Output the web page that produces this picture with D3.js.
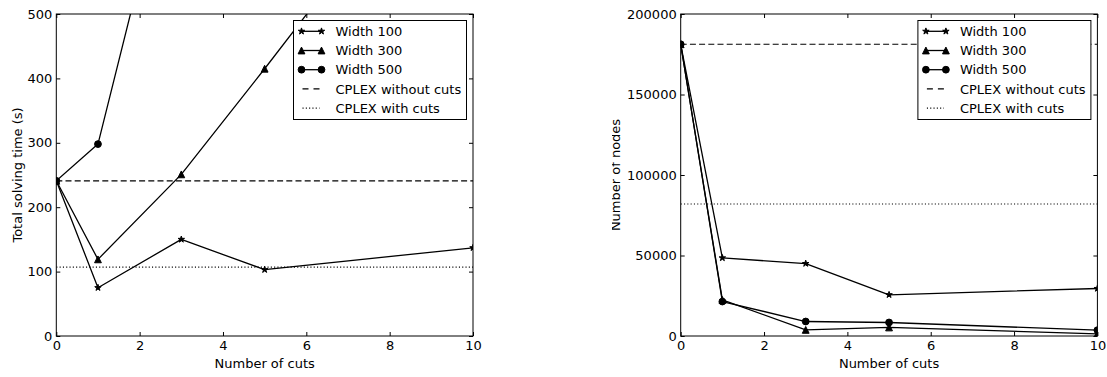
<!DOCTYPE html>
<html>
<head>
<meta charset="utf-8">
<script src="https://cdn.jsdelivr.net/npm/d3@7"></script>
<style>
  html, body { margin: 0; padding: 0; background: #fff; }
  svg { display: block; }
  text { font-family: "DejaVu Sans", sans-serif; fill: #000; }
</style>
</head>
<body>
<svg id="fig" width="1107" height="377"></svg>
<script>
// Number of cuts on the x axis (shared by both panels)
const cuts = [0, 1, 3, 5, 10];

// Left panel: total solving time in seconds
const timeWidth100 = [241, 75, 150, 103, 137];
const timeWidth300 = [241, 119, 251, 415, 835];
const timeWidth500 = [241, 298, 816, 1350, 2400];
const timeCplexNoCuts = 241;
const timeCplexCuts = 107;
const timeTicks = [0, 100, 200, 300, 400, 500];

// Right panel: number of branch-and-bound nodes
const nodesWidth100 = [181200, 48500, 45000, 25600, 29500];
const nodesWidth300 = [181200, 22400, 3800, 5300, 1300];
const nodesWidth500 = [181200, 21400, 9000, 8400, 3600];
const nodesCplexNoCuts = 181200;
const nodesCplexCuts = 82000;
const nodesTicks = [0, 50000, 100000, 150000, 200000];

const cutTicks = [0, 2, 4, 6, 8, 10];
const seriesNames = ["Width 100", "Width 300", "Width 500"];
const seriesMarkers = ["star", "triangle", "circle"];
const cplexNames = ["CPLEX without cuts", "CPLEX with cuts"];

const FONT = 13;
const MS = 3.4; // marker half-size in px

const svg = d3.select("#fig");

function markerPath(kind) {
  if (kind === "circle") {
    const p = d3.path();
    p.arc(0, 0, MS, 0, 2 * Math.PI);
    return p.toString();
  }
  if (kind === "triangle") {
    return `M0,${-MS}L${-MS},${MS}L${MS},${MS}Z`;
  }
  // five-pointed star
  const pts = [];
  for (let i = 0; i < 10; i++) {
    const a = -Math.PI / 2 + i * Math.PI / 5;
    const r = i % 2 === 0 ? MS : MS * 0.381966;
    pts.push([r * Math.cos(a), r * Math.sin(a)]);
  }
  return "M" + pts.map(p => p.join(",")).join("L") + "Z";
}

function panel(cfg) {
  const { id, left, right, top, bottom, yDomain, yTicks, series, noCuts, withCuts, yLabel, yLabelX, labelClipX } = cfg;
  const x = d3.scaleLinear().domain([0, 10]).range([left, right]);
  const y = d3.scaleLinear().domain(yDomain).range([bottom, top]);

  const g = svg.append("g");

  const clipId = "clip-" + id;
  svg.append("clipPath").attr("id", clipId)
    .append("rect").attr("x", left).attr("y", top)
    .attr("width", right - left).attr("height", bottom - top);

  const plot = g.append("g").attr("clip-path", `url(#${clipId})`);

  // reference lines for CPLEX
  plot.append("line")
    .attr("x1", left).attr("x2", right)
    .attr("y1", y(noCuts)).attr("y2", y(noCuts))
    .attr("stroke", "#000").attr("stroke-width", 1.2)
    .attr("stroke-dasharray", "6,3.2");
  plot.append("line")
    .attr("x1", left).attr("x2", right)
    .attr("y1", y(withCuts)).attr("y2", y(withCuts))
    .attr("stroke", "#000").attr("stroke-width", 1.1)
    .attr("stroke-dasharray", "1.1,2.2");

  const line = d3.line().x((d, i) => x(cuts[i])).y(d => y(d));

  series.forEach((vals, si) => {
    plot.append("path")
      .attr("d", line(vals))
      .attr("fill", "none")
      .attr("stroke", "#000")
      .attr("stroke-width", 1.3)
      .attr("stroke-linejoin", "round");
    plot.selectAll(null).data(vals).enter().append("path")
      .attr("d", markerPath(seriesMarkers[si]))
      .attr("transform", (d, i) => `translate(${x(cuts[i])},${y(d)})`)
      .attr("fill", "#000").attr("stroke", "#000").attr("stroke-width", 1);
  });

  // axes with inward ticks on all four sides
  const styleAxis = sel => {
    sel.select(".domain").remove();
    sel.selectAll(".tick line").attr("stroke", "#000").attr("stroke-width", 1);
    sel.selectAll(".tick text").attr("font-size", FONT).attr("font-family", "DejaVu Sans").attr("fill", "#000");
  };
  g.append("g").attr("transform", `translate(0,${bottom})`)
    .call(d3.axisBottom(x).tickValues(cutTicks).tickSizeInner(-4).tickSizeOuter(0).tickPadding(4.8))
    .call(styleAxis);
  g.append("g").attr("transform", `translate(0,${top})`)
    .call(d3.axisTop(x).tickValues(cutTicks).tickSizeInner(-4).tickSizeOuter(0).tickFormat(""))
    .call(styleAxis);
  g.append("g").attr("transform", `translate(${left},0)`)
    .call(d3.axisLeft(y).tickValues(yTicks).tickSizeInner(-4).tickSizeOuter(0).tickPadding(4).tickFormat(d3.format("d")))
    .call(styleAxis);
  g.append("g").attr("transform", `translate(${right},0)`)
    .call(d3.axisRight(y).tickValues(yTicks).tickSizeInner(-4).tickSizeOuter(0).tickFormat(""))
    .call(styleAxis);

  // frame
  g.append("rect")
    .attr("x", left).attr("y", top)
    .attr("width", right - left).attr("height", bottom - top)
    .attr("fill", "none").attr("stroke", "#000").attr("stroke-width", 1);

  // axis titles
  g.append("text")
    .attr("x", (left + right) / 2).attr("y", bottom + 32)
    .attr("text-anchor", "middle").attr("font-size", FONT)
    .text("Number of cuts");

  const labelGroup = g.append("g");
  if (labelClipX != null) {
    const lcId = "lclip-" + id;
    svg.append("clipPath").attr("id", lcId)
      .append("rect").attr("x", labelClipX).attr("y", 0)
      .attr("width", 1107 - labelClipX).attr("height", 377);
    labelGroup.attr("clip-path", `url(#${lcId})`);
  }
  labelGroup.append("text")
    .attr("transform", `translate(${yLabelX},${(top + bottom) / 2}) rotate(-90)`)
    .attr("text-anchor", "middle").attr("font-size", FONT)
    .text(yLabel);

  // legend
  const lw = 173, lh = 99;
  const lx = right - 6.5 - lw, ly = top + 6.5;
  const leg = g.append("g");
  leg.append("rect")
    .attr("x", lx).attr("y", ly).attr("width", lw).attr("height", lh)
    .attr("fill", "#fff").attr("stroke", "#000").attr("stroke-width", 1);
  const names = seriesNames.concat(cplexNames);
  names.forEach((name, i) => {
    const cy = ly + 10.8 + i * 19.2;
    const h0 = lx + 8, h1 = lx + 28;
    if (i < 3) {
      leg.append("line").attr("x1", h0).attr("x2", h1).attr("y1", cy).attr("y2", cy)
        .attr("stroke", "#000").attr("stroke-width", 1.3);
      [h0, h1].forEach(hx => {
        leg.append("path").attr("d", markerPath(seriesMarkers[i]))
          .attr("transform", `translate(${hx},${cy})`)
          .attr("fill", "#000").attr("stroke", "#000").attr("stroke-width", 1);
      });
    } else if (i === 3) {
      leg.append("line").attr("x1", h0 + 1).attr("x2", h1).attr("y1", cy).attr("y2", cy)
        .attr("stroke", "#000").attr("stroke-width", 1.2).attr("stroke-dasharray", "6,5");
    } else {
      leg.append("line").attr("x1", h0 + 1).attr("x2", h1 - 2).attr("y1", cy).attr("y2", cy)
        .attr("stroke", "#000").attr("stroke-width", 1.1).attr("stroke-dasharray", "1.1,2.2");
    }
    leg.append("text").attr("x", lx + 42).attr("y", cy + 4.7)
      .attr("font-size", FONT).text(name);
  });
}

panel({
  id: "time", left: 56.3, right: 473, top: 14, bottom: 336,
  yDomain: [0, 500], yTicks: timeTicks,
  series: [timeWidth100, timeWidth300, timeWidth500],
  noCuts: timeCplexNoCuts, withCuts: timeCplexCuts,
  yLabel: "Total solving time (s)", yLabelX: 21.5, labelClipX: null
});

panel({
  id: "nodes", left: 680.7, right: 1097.4, top: 14, bottom: 336,
  yDomain: [0, 200000], yTicks: nodesTicks,
  series: [nodesWidth100, nodesWidth300, nodesWidth500],
  noCuts: nodesCplexNoCuts, withCuts: nodesCplexCuts,
  yLabel: "Number of nodes", yLabelX: 619.5, labelClipX: 612
});
</script>
</body>
</html>
